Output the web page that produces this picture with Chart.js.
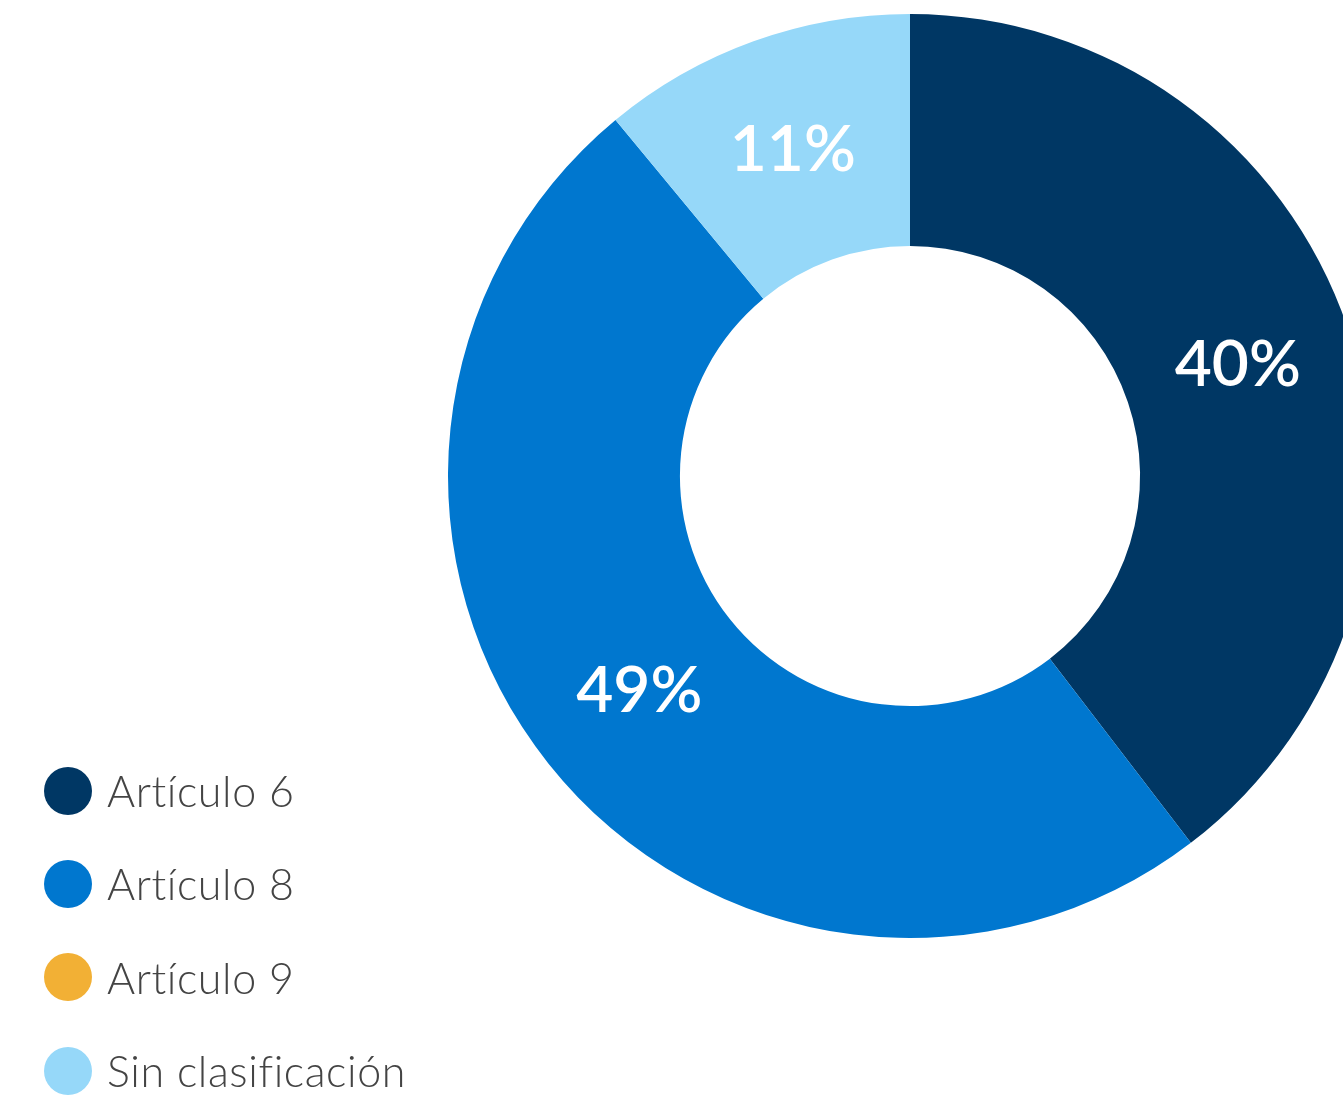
<!DOCTYPE html>
<html lang="es">
<head>
<meta charset="utf-8">
<title>Clasificación SFDR</title>
<script src="https://cdn.jsdelivr.net/npm/chart.js@4.4.1/dist/chart.umd.min.js"></script>
<style>
  html, body { margin: 0; padding: 0; background: #fff; overflow: hidden; }
  body { width: 1343px; height: 1095px; position: relative; }
  #wrap { position: absolute; left: 0; top: 0; width: 1820px; height: 1095px; }
  #legend { position: absolute; left: 44px; top: 744px; margin: 0; padding: 0; list-style: none; }
  #legend li { display: flex; align-items: center; height: 93.3px; white-space: nowrap;
    font-family: Lato, "Open Sans", sans-serif; font-weight: 300; font-size: 43px; color: #444;
    letter-spacing: 0.6px; font-variant-ligatures: no-common-ligatures; }
  #legend .dot { width: 48px; height: 48px; border-radius: 50%; margin-right: 15px; flex: none; }
</style>
</head>
<body>
<div id="wrap"><canvas id="chart" width="1820" height="1095"></canvas></div>
<ul id="legend"></ul>
<script>
'use strict';

const labels = ['Artículo 6', 'Artículo 8', 'Artículo 9', 'Sin clasificación'];
const values = [39.6, 49.4, 0, 11.0];
const colors = ['#003764', '#0077cf', '#f2b035', '#96d8f9'];

// etiquetas de porcentaje dentro de cada porción
const sliceLabels = {
  id: 'sliceLabels',
  afterDatasetsDraw(chart) {
    const ctx = chart.ctx;
    const meta = chart.getDatasetMeta(0);
    ctx.save();
    ctx.fillStyle = '#fff';
    ctx.font = '600 64px Lato, "Open Sans", sans-serif';
    ctx.textAlign = 'center';
    ctx.textBaseline = 'middle';
    meta.data.forEach((arc, i) => {
      if (!values[i]) return;
      const p = arc.tooltipPosition();
      ctx.fillText(Math.round(values[i]) + '%', p.x, p.y);
    });
    ctx.restore();
  }
};

new Chart(document.getElementById('chart'), {
  type: 'doughnut',
  data: {
    labels: labels,
    datasets: [{
      data: values,
      backgroundColor: colors,
      borderWidth: 0
    }]
  },
  options: {
    responsive: false,
    animation: false,
    cutout: '49.8%',
    layout: { padding: { top: 14, bottom: 157, left: 0, right: 0 } },
    plugins: {
      legend: { display: false },
      tooltip: { enabled: false }
    }
  },
  plugins: [sliceLabels]
});

// leyenda
const legend = document.getElementById('legend');
labels.forEach((name, i) => {
  const li = document.createElement('li');
  const dot = document.createElement('span');
  dot.className = 'dot';
  dot.style.background = colors[i];
  li.appendChild(dot);
  li.appendChild(document.createTextNode(name));
  legend.appendChild(li);
});
</script>
</body>
</html>
